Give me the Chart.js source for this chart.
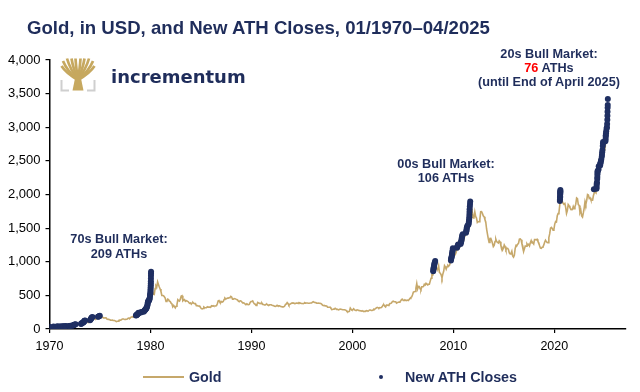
<!DOCTYPE html>
<html>
<head>
<meta charset="utf-8">
<script src="https://cdn.jsdelivr.net/npm/chart.js@4.4.1/dist/chart.umd.min.js"></script>
<style>
  html, body { margin:0; padding:0; background:#fff; }
  #wrap { position:relative; width:640px; height:392px; overflow:hidden; font-family:"Liberation Sans", Arial, sans-serif; }
  #c { position:absolute; left:0; top:0; }
  .t { position:absolute; white-space:nowrap; line-height:1; font-weight:bold; color:#1f2d5b; }
  .ann { position:absolute; white-space:nowrap; font-weight:bold; color:#1f2d5b; font-size:12.7px; line-height:14.2px; text-align:center; transform:translateX(-50%); }
</style>
</head>
<body>
<div id="wrap">
  <canvas id="c" width="640" height="392"></canvas>
  <div class="t" style="left:27px; top:19px; font-size:18.6px;">Gold, in USD, and New ATH Closes, 01/1970–04/2025</div>
  <svg style="position:absolute; left:60px; top:57px;" width="36" height="35" viewBox="0 0 36 35">
    <g stroke="#c6a85f" stroke-width="2.7" fill="none">
      <path d="M18,23 Q6,16 1.5,9"/>
      <path d="M18,23 Q7,14 3,4"/>
      <path d="M18,23 Q10,12 7,1.5"/>
      <path d="M18,23 Q13,11 11.5,1.5"/>
      <path d="M18,23 Q16,10 15.5,1.5"/>
      <path d="M18,23 Q20,10 20.5,1.5"/>
      <path d="M18,23 Q23,11 24.5,1.5"/>
      <path d="M18,23 Q26,12 29,1.5"/>
      <path d="M18,23 Q29,14 33,4"/>
      <path d="M18,23 Q30,16 34.5,9"/>
    </g>
    <polygon points="12.5,33.5 23.5,33.5 20.5,19 15.5,19" fill="#c6a85f"/>
    <g stroke="#cfcfcf" stroke-width="2" fill="none">
      <path d="M1.5,23 V33.5 H9"/>
      <path d="M34.5,23 V33.5 H27"/>
    </g>
  </svg>
  <div class="t" style="left:111px; top:67.6px; font-size:18px; font-family:'DejaVu Sans', sans-serif;">incrementum</div>

  <div class="ann" style="left:119px; top:232.3px;">70s Bull Market:<br>209 ATHs</div>
  <div class="ann" style="left:446px; top:157px;">00s Bull Market:<br>106 ATHs</div>
  <div class="ann" style="left:549px; top:47px;">20s Bull Market:<br><span style="color:#ff0000">76</span> ATHs<br>(until End of April 2025)</div>

  <div style="position:absolute; left:143px; top:376px; width:41px; height:2px; background:#c6a86b;"></div>
  <div class="t" style="left:189px; top:370px; font-size:14.3px;">Gold</div>
  <div style="position:absolute; left:378.5px; top:374.8px; width:4.5px; height:4.5px; border-radius:50%; background:#1f2f62;"></div>
  <div class="t" style="left:405px; top:370px; font-size:14.3px;">New ATH Closes</div>
</div>
<script>
const startYear = 1970;
const gold1970s = [
  34.9,35.0,35.1,35.6,35.9,35.4,35.3,35.4,36.2,37.5,37.4,37.4,
  37.9,38.7,38.9,39.0,40.5,40.1,41.0,42.7,42.0,42.5,42.9,43.5,
  45.8,48.3,48.3,49.0,54.6,62.1,65.7,67.0,65.5,64.9,62.9,63.9,
  65.1,74.2,84.4,90.5,102.0,122.5,120.0,106.8,103.0,100.1,94.8,106.7,
  129.2,150.2,168.4,172.2,163.4,154.1,143.0,154.6,151.8,158.8,181.7,185.0,
  176.3,179.6,178.2,170.1,167.4,164.2,165.2,163.1,144.0,142.8,142.8,139.3,
  131.5,131.0,132.6,128.2,127.1,125.7,117.8,109.3,114.1,116.0,130.3,133.7,
  132.3,136.3,148.2,149.2,146.6,140.8,143.4,144.8,149.6,158.9,162.2,160.5,
  173.2,178.2,183.7,175.1,176.3,183.7,188.7,206.1,212.9,227.3,206.0,207.8,
  227.3,245.7,242.1,239.2,257.6,279.1,294.7,300.8,355.1,391.7,392.5,455.1
];
const gold1980s = [
  675,665,554,517,514,601,645,627,700,661,624,595,
  557,500,499,495,480,460,409,410,443,437,413,410,
  384,374,330,350,334,315,339,364,435,422,415,444,
  490,495,420,432,438,412,422,416,411,394,382,388,
  370,386,394,381,377,377,348,348,341,340,341,320,
  303,299,304,325,316,317,317,330,323,326,325,322,
  345,339,346,340,342,343,348,376,418,423,398,391,
  408,401,409,438,460,449,451,461,460,465,467,486,
  477,442,443,452,451,451,437,432,413,406,420,419,
  404,388,390,384,371,367,375,365,362,367,394,409
];
const gold1990s = [
  410,417,393,374,369,352,362,395,389,381,381,378,
  384,364,364,358,357,367,368,356,349,359,360,361,
  354,354,345,338,337,340,353,343,345,344,335,334,
  329,330,330,342,367,372,392,379,355,365,374,383,
  387,382,384,378,381,386,385,380,391,389,384,379,
  379,376,382,391,385,387,386,383,383,383,386,387,
  400,405,396,393,392,385,383,387,383,381,378,369,
  355,347,352,344,344,341,324,324,323,325,306,289,
  289,297,296,308,299,292,293,284,289,296,294,291,
  287,287,286,282,277,261,256,257,265,311,293,283
];
const gold2000s = [
  285,300,286,280,275,285,282,275,273,270,266,272,
  266,262,263,261,272,270,268,273,283,283,276,275,
  282,296,294,302,314,322,314,310,319,317,319,333,
  357,359,340,328,355,356,351,360,379,379,389,407,
  414,405,406,404,384,392,398,400,406,420,439,442,
  424,423,434,429,422,430,424,438,456,470,476,510,
  549,555,557,610,676,596,633,632,598,585,627,629,
  631,664,655,679,667,655,665,665,712,754,806,803,
  889,922,968,909,888,889,939,839,829,806,760,816,
  858,943,924,890,928,946,934,949,996,1043,1127,1135
];
const gold2010s = [
  1118,1095,1113,1148,1205,1233,1193,1215,1271,1343,1370,1391,
  1360,1374,1424,1474,1512,1529,1573,1756,1772,1665,1739,1652,
  1656,1742,1673,1650,1585,1596,1594,1630,1745,1747,1722,1684,
  1671,1627,1593,1487,1414,1343,1286,1347,1348,1316,1275,1225,
  1244,1301,1336,1299,1287,1279,1311,1296,1239,1222,1176,1201,
  1251,1227,1179,1198,1199,1182,1131,1117,1125,1157,1086,1068,
  1097,1200,1246,1242,1260,1276,1337,1341,1326,1267,1236,1152,
  1192,1234,1231,1267,1246,1260,1237,1283,1315,1280,1283,1265,
  1331,1331,1325,1335,1303,1282,1238,1202,1198,1215,1221,1250,
  1291,1320,1300,1286,1284,1359,1413,1500,1511,1495,1471,1480
];
const gold2020s = [
  1560,1597,1591,1683,1716,1732,1846,1968,1922,1900,1866,1858,
  1867,1808,1718,1760,1850,1834,1807,1785,1775,1777,1821,1790,
  1817,1856,1948,1937,1849,1837,1733,1765,1681,1665,1726,1798,
  1898,1855,1912,1999,1992,1942,1951,1918,1916,1916,1985,2027,
  2034,2023,2158,2331,2350,2326,2399,2470,2570,2690,2651,2648,
  2709,2895,2984,3300
];

const athDates = [
  1970.00,1970.40,1970.70,1970.80,1970.88,1971.05,1971.12,1971.30,1971.38,1971.55,1971.62,1971.92,
  1972.00,1972.08,1972.20,1972.30,1972.38,1972.42,1972.46,1972.52,1972.58,
  1973.12,1973.15,1973.20,1973.25,1973.33,1973.38,1973.42,1973.45,1973.48,1973.52,
  1974.02,1974.06,1974.10,1974.14,1974.18,1974.25,1974.80,1974.86,1974.92,1974.98,
  1978.56,1978.60,1978.62,1978.66,1978.72,1978.76,1978.80,1978.82,
  1979.05,1979.10,1979.32,1979.38,1979.42,1979.46,1979.50,1979.54,1979.58,1979.62,1979.66,1979.70,
  1979.72,1979.74,1979.76,1979.84,1979.88,1979.90,1979.93,1979.95,1979.97,1979.99,
  1980.00,1980.01,1980.02,1980.03,1980.035,1980.04,1980.045,1980.05,1980.055,1980.06,
  2008.00,2008.02,2008.04,2008.06,2008.08,2008.10,2008.13,2008.16,2008.20,
  2009.76,2009.78,2009.80,2009.83,2009.85,2009.87,2009.89,2009.91,2009.93,2009.95,
  2010.36,2010.40,2010.44,2010.47,2010.72,2010.75,2010.78,2010.80,2010.83,2010.85,2010.88,2010.93,
  2011.25,2011.28,2011.30,2011.32,2011.34,2011.38,2011.48,2011.52,2011.54,2011.56,2011.58,2011.59,
  2011.60,2011.61,2011.63,2011.65,2011.67,
  2020.55,2020.56,2020.57,2020.575,2020.58,2020.585,2020.59,2020.595,2020.60,
  2023.92,2024.17,2024.18,2024.19,2024.20,2024.22,2024.25,2024.26,2024.27,2024.28,2024.29,2024.38,2024.40,
  2024.54,2024.55,2024.58,2024.62,2024.65,2024.70,2024.72,2024.74,2024.77,2024.80,2024.82,2024.83,
  2025.06,2025.08,2025.09,2025.10,2025.12,2025.14,2025.18,2025.21,2025.23,2025.25,2025.26,2025.27,
  2025.28,2025.29,2025.30
];
const athCloses = [
  35.1,35.9,36.3,37.0,37.4,38.0,38.8,39.5,40.5,41.5,42.8,43.6,
  45.5,48.0,49.0,52,56,60,64,67,70,
  74,80,86,90,96,102,110,118,124,127,
  130,140,150,160,170,179,182,186,191,197,
  200,204,208,212,218,226,235,243,
  246,252,258,266,276,282,290,297,304,315,330,355,
  375,395,412,420,430,445,460,490,512,530,
  560,590,620,650,680,710,750,790,825,850,
  860,880,900,915,930,950,970,990,1011,
  1020,1040,1055,1070,1090,1110,1130,1150,1170,1200,
  1210,1225,1240,1255,1265,1285,1300,1320,1345,1365,1390,1410,
  1430,1450,1470,1490,1510,1530,1550,1570,1600,1630,1660,1700,
  1740,1780,1820,1860,1895,
  1902,1930,1960,1975,2000,2020,2035,2050,2067,
  2078,2085,2100,2130,2160,2180,2230,2260,2300,2330,2350,2370,2420,
  2430,2460,2470,2500,2520,2560,2590,2630,2660,2720,2760,2780,
  2790,2820,2860,2880,2910,2940,2980,3000,3050,3110,3170,3230,
  3290,3330,3420
];
const yTickStep = 500;
const xTickStep = 10;

const GOLD = '#c6a86b';
const NAVY = '#1f2f62';
const FONT = '"Liberation Sans", Arial, sans-serif';

const goldMonthly = [].concat(gold1970s, gold1980s, gold1990s, gold2000s, gold2010s, gold2020s);
const goldPoints = goldMonthly.map((v, i) => ({ x: startYear + (i + 0.5) / 12, y: v }));
const athPoints = athDates.map((d, i) => ({ x: d, y: athCloses[i] }));

const axisGrid = { display: true, drawOnChartArea: false, drawTicks: true, tickLength: 4, color: '#000', lineWidth: 1.2 };
const axisBorder = { display: true, color: '#000', width: 1.5 };

new Chart(document.getElementById('c'), {
  type: 'line',
  data: {
    datasets: [
      { label: 'New ATH Closes', data: athPoints, showLine: false, pointRadius: 3, pointHoverRadius: 3,
        pointBackgroundColor: NAVY, pointBorderWidth: 0, borderColor: NAVY, order: 0 },
      { label: 'Gold', data: goldPoints, borderColor: GOLD, borderWidth: 1.6, pointRadius: 0,
        tension: 0, fill: false, order: 1 }
    ]
  },
  options: {
    responsive: false,
    devicePixelRatio: 1,
    animation: false,
    layout: { padding: { left: 0, right: 14, top: 60, bottom: 37 } },
    plugins: { legend: { display: false }, tooltip: { enabled: false } },
    scales: {
      x: {
        type: 'linear', min: 1970, max: 2027.1,
        afterFit: s => { s.height = 26; },
        border: axisBorder, grid: axisGrid,
        ticks: { stepSize: xTickStep, includeBounds: false, autoSkip: false, maxRotation: 0, padding: 6,
          color: '#000', font: { family: FONT, size: 12.5 }, callback: v => String(v) }
      },
      y: {
        min: 0, max: 4000,
        afterFit: s => { s.width = 49.5; },
        border: axisBorder, grid: axisGrid,
        ticks: { stepSize: yTickStep, padding: 5, color: '#000', font: { family: FONT, size: 13 },
          callback: v => v.toLocaleString('en-US') }
      }
    }
  }
});
</script>
</body>
</html>
